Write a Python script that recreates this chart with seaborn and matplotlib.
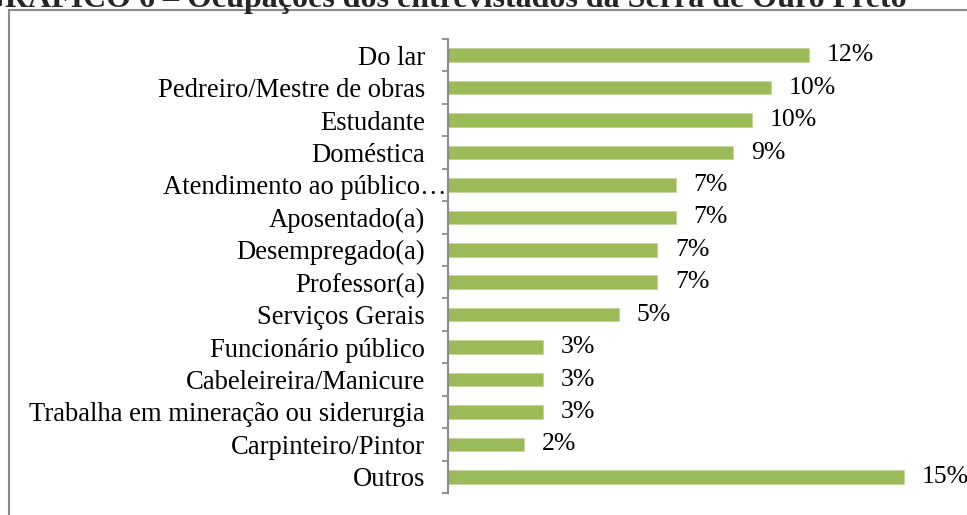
# -*- coding:utf-8 -*-
"""Ocupações dos entrevistados - gráfico de barras horizontais"""

import pandas as pd
import matplotlib
matplotlib.use("Agg")
import matplotlib.pyplot as plt
import matplotlib.transforms as mtransforms
from matplotlib.patches import Rectangle
import seaborn as sns

# dados (percentual de entrevistados)
ocupacoes = ["Do lar", "Pedreiro/Mestre de obras", "Estudante", "Doméstica",
             "Atendimento ao público…", "Aposentado(a)", "Desempregado(a)",
             "Professor(a)", "Serviços Gerais", "Funcionário público",
             "Cabeleireira/Manicure", "Trabalha em mineração ou siderurgia",
             "Carpinteiro/Pintor", "Outros"]
percentuais = [11.52, 10.30, 9.70, 9.09, 7.27, 7.27, 6.67, 6.67, 5.45,
               3.03, 3.03, 3.03, 2.42, 14.55]
titulo = "GRÁFICO 6 – Ocupações dos entrevistados da Serra de Ouro Preto"

df = pd.DataFrame({"ocupacao": ocupacoes, "pct": percentuais})

sns.set_theme(style="white")
plt.rcParams['font.family'] = ['Liberation Serif', 'DejaVu Serif']

W, H = 967, 515
fig = plt.figure(figsize=(W / 100, H / 100), dpi=100)
ax = fig.add_axes([448 / W, 1 - 493 / H, 501 / W, 454 / H])

verde = "#9BBB59"
cinza = "#8a8a8a"

sns.barplot(data=df, x="pct", y="ocupacao", orient="h", color=verde,
            width=0.42, saturation=1, edgecolor="#c3d69b", linewidth=0.6, ax=ax)

ax.set_xlim(0, 16)
ax.set_ylim(len(ocupacoes) - 0.5, -0.5)
ax.set_xlabel("")
ax.set_ylabel("")
ax.xaxis.set_visible(False)

for s in ["top", "right", "bottom"]:
    ax.spines[s].set_visible(False)
ax.spines["left"].set_color(cinza)
ax.spines["left"].set_linewidth(1.5)

ax.tick_params(axis="y", which="major", length=0, pad=16.5, labelsize=19.2,
               labelcolor="black")
ax.set_yticks([i - 0.5 for i in range(len(ocupacoes) + 1)], minor=True)
ax.tick_params(axis="y", which="minor", length=4.5, width=1.3, color=cinza,
               direction="out", left=True)

# rótulo truncado encosta no eixo
lab = ax.get_yticklabels()[4]
lab.set_transform(lab.get_transform() +
                  mtransforms.ScaledTranslation(22 / 100, 0, fig.dpi_scale_trans))

# rótulos de dados
for i, v in enumerate(percentuais):
    ax.annotate(f"{v:.0f}%", xy=(v, i), xytext=(18, 0), textcoords="offset pixels",
                ha="left", va="center", fontsize=18.5, color="black")

# moldura da área do gráfico
fig.add_artist(Rectangle((9 / W, -0.2), 1.2, 1.2 - 10 / H, transform=fig.transFigure,
                         fill=False, edgecolor=cinza, linewidth=1.5))

# título (cortado no topo, como no original)
fig.text(907 / W, 1 - 7 / H, titulo, ha="right", va="baseline",
         fontsize=23, fontweight="bold")

fig.savefig("out.png", dpi=100)
